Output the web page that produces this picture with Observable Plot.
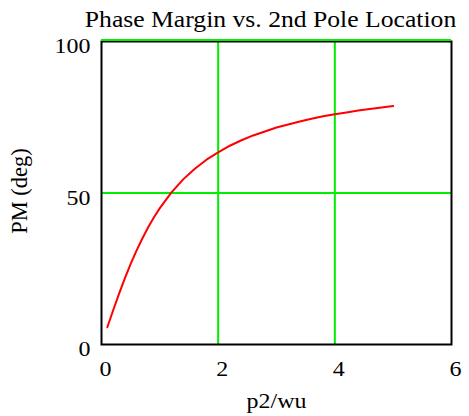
<!DOCTYPE html>
<html>
<head>
<meta charset="utf-8">
<script src="https://cdn.jsdelivr.net/npm/d3@7"></script>
<script src="https://cdn.jsdelivr.net/npm/@observablehq/plot@0.6"></script>
<style>
  html, body { margin: 0; padding: 0; background: #fff; }
  svg, svg text { font-family: "Liberation Serif", "Times New Roman", serif !important; }
</style>
</head>
<body>
<div id="chart"></div>
<script>
const title = "Phase Margin vs. 2nd Pole Location";
const xLabel = "p2/wu";
const yLabel = "PM (deg)";
const xTicks = [0, 2, 4, 6];
const yTicks = [0, 50, 100];
const xGrid = [2, 4];
const yGrid = [50, 100];

const p2wu = [0.1, 0.2, 0.3, 0.4, 0.5, 0.6, 0.7, 0.8, 0.9, 1.0, 1.2, 1.4, 1.6, 1.8, 2.0,
              2.2, 2.4, 2.6, 2.8, 3.0, 3.2, 3.4, 3.6, 3.8, 4.0, 4.2, 4.4, 4.6, 4.8, 5.0];
const pm = [5.7, 11.3, 16.7, 21.8, 26.6, 31.0, 35.0, 38.7, 42.0, 45.0, 50.2, 54.5, 58.0, 61.0, 63.4,
            65.6, 67.4, 69.0, 70.3, 71.6, 72.6, 73.6, 74.5, 75.3, 76.0, 76.6, 77.2, 77.7, 78.2, 78.7];

const data = p2wu.map((x, i) => ({x, y: pm[i]}));
const fmt = d3.format("d");
const serif = "Liberation Serif, Times New Roman, serif";

const chart = Plot.plot({
  width: 469,
  height: 416,
  marginLeft: 101,
  marginRight: 18,
  marginTop: 41,
  marginBottom: 72,
  style: {fontFamily: serif, fontSize: "21px", color: "black", background: "white"},
  x: {domain: [0, 6], label: null},
  y: {domain: [0, 100], label: null},
  marks: [
    Plot.ruleX(xGrid, {stroke: "#00ee00", strokeWidth: 2}),
    Plot.ruleY([50], {stroke: "#00ee00", strokeWidth: 2}),
    Plot.frame({stroke: "black", strokeWidth: 2}),
    Plot.ruleY([100], {stroke: "#00ee00", strokeWidth: 2, dy: -1.5}),
    Plot.line(data, {x: "x", y: "y", stroke: "red", strokeWidth: 2}),
    Plot.axisX({ticks: xTicks, tickFormat: fmt, tickSize: 0, tickPadding: 17, dx: 4, label: null, fontSize: 21, fontFamily: serif}),
    Plot.axisY({ticks: yTicks, tickFormat: fmt, tickSize: 0, tickPadding: 11, dy: 5, label: null, fontSize: 21, fontFamily: serif}),
    Plot.text([title], {frameAnchor: "top", dy: -30, dx: -6, fontSize: 22.5, fontFamily: serif, text: d => d}),
    Plot.text([xLabel], {frameAnchor: "bottom", dy: 63, fontSize: 21, fontFamily: serif, text: d => d}),
    Plot.text([yLabel], {frameAnchor: "left", textAnchor: "middle", lineAnchor: "middle", dx: -82, dy: -2, rotate: -90, fontSize: 22.5, fontFamily: serif, text: d => d})
  ]
});
document.getElementById("chart").appendChild(chart);
// the reference glyphs are slightly wider than Liberation Serif: widen horizontal text
const S = 1.14;
chart.querySelectorAll("text").forEach(t => {
  const s = t.textContent.trim();
  if (!s || s === yLabel) return;
  const len = t.getComputedTextLength();
  t.setAttribute("textLength", (len * S).toFixed(1));
  t.setAttribute("lengthAdjust", "spacingAndGlyphs");
});
</script>
</body>
</html>
